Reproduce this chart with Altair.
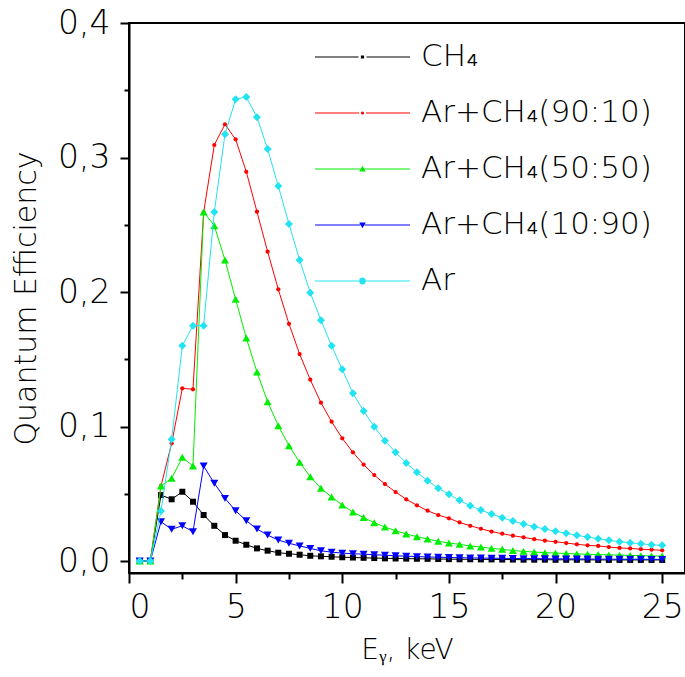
import altair as alt
import pandas as pd

energy = [0.5, 1.0, 1.5, 2.0, 2.5, 3.0, 3.5, 4.0, 4.5, 5.0,
          5.5, 6.0, 6.5, 7.0, 7.5, 8.0, 8.5, 9.0, 9.5, 10.0,
          10.5, 11.0, 11.5, 12.0, 12.5, 13.0, 13.5, 14.0, 14.5, 15.0,
          15.5, 16.0, 16.5, 17.0, 17.5, 18.0, 18.5, 19.0, 19.5, 20.0,
          20.5, 21.0, 21.5, 22.0, 22.5, 23.0, 23.5, 24.0, 24.5, 25.0]

ch4 = [0.0, 0.0, 0.049, 0.0459, 0.0515, 0.0441, 0.0342, 0.0262, 0.0193, 0.0151,
       0.0121, 0.0094, 0.0077, 0.0062, 0.0054, 0.0047, 0.0039, 0.0035, 0.0032, 0.0028,
       0.0026, 0.0024, 0.0022, 0.0020, 0.0019, 0.0018, 0.0017, 0.0016, 0.0015, 0.0014,
       0.0013, 0.0013, 0.0012, 0.0012, 0.0011, 0.0011, 0.0010, 0.0010, 0.0010, 0.0009,
       0.0009, 0.0009, 0.0009, 0.0008, 0.0008, 0.0008, 0.0008, 0.0008, 0.0008, 0.0008]

ar_90_10 = [0.0, 0.0, 0.0558, 0.0875, 0.1284, 0.1277, 0.2593, 0.3093, 0.3247, 0.3135,
            0.2894, 0.2597, 0.2300, 0.2020, 0.1764, 0.1539, 0.1348, 0.1177, 0.1036, 0.0912,
            0.0808, 0.0717, 0.0639, 0.0572, 0.0513, 0.0459, 0.0414, 0.0374, 0.0342, 0.0318,
            0.0287, 0.0262, 0.0240, 0.0219, 0.0203, 0.0188, 0.0176, 0.0162, 0.0151, 0.0143,
            0.0134, 0.0124, 0.0117, 0.0112, 0.0104, 0.0097, 0.0094, 0.0088, 0.0084, 0.0080]

ar_50_50 = [0.0, 0.0, 0.0558, 0.0615, 0.0771, 0.0706, 0.2595, 0.2493, 0.2238, 0.1946,
            0.1658, 0.1405, 0.1184, 0.1006, 0.0857, 0.0734, 0.0627, 0.0541, 0.0476, 0.0416,
            0.0364, 0.0323, 0.0285, 0.0253, 0.0225, 0.0201, 0.0181, 0.0164, 0.0147, 0.0134,
            0.0124, 0.0112, 0.0104, 0.0094, 0.0087, 0.0078, 0.0072, 0.0067, 0.0062, 0.0059,
            0.0056, 0.0053, 0.0050, 0.0048, 0.0046, 0.0044, 0.0042, 0.0040, 0.0038, 0.0037]

ar_10_90 = [0.0, 0.0, 0.0292, 0.0236, 0.0262, 0.0218, 0.0706, 0.0578, 0.0466, 0.0374,
            0.0300, 0.0238, 0.0193, 0.0156, 0.0132, 0.0112, 0.0094, 0.0076, 0.0066, 0.0059,
            0.0054, 0.0051, 0.0047, 0.0043, 0.0039, 0.0036, 0.0033, 0.0030, 0.0028, 0.0026,
            0.0025, 0.0023, 0.0022, 0.0021, 0.0020, 0.0019, 0.0018, 0.0018, 0.0017, 0.0016,
            0.0016, 0.0015, 0.0015, 0.0014, 0.0014, 0.0013, 0.0013, 0.0013, 0.0012, 0.0012]

ar = [0.0, 0.0, 0.0372, 0.0905, 0.1600, 0.1750, 0.1750, 0.2595, 0.3172, 0.3433,
      0.3450, 0.3300, 0.3063, 0.2788, 0.2506, 0.2238, 0.1995, 0.1790, 0.1600, 0.1425,
      0.1247, 0.1115, 0.0999, 0.0894, 0.0808, 0.0729, 0.0660, 0.0597, 0.0541, 0.0496,
      0.0451, 0.0411, 0.0379, 0.0349, 0.0322, 0.0297, 0.0275, 0.0255, 0.0238, 0.0221,
      0.0206, 0.0191, 0.0178, 0.0166, 0.0154, 0.0143, 0.0136, 0.0128, 0.0121, 0.0117]

series_names = ["CH₄", "Ar+CH₄(90:10)", "Ar+CH₄(50:50)", "Ar+CH₄(10:90)", "Ar"]
series_values = [ch4, ar_90_10, ar_50_50, ar_10_90, ar]
colors = ["#000000", "#ff0000", "#00ee00", "#0000ff", "#22e3f0"]
shapes = ["square", "circle", "triangle-up", "triangle-down", "diamond"]
sizes = [36, 18, 64, 64, 64]

x_ticks = [0, 2.5, 5, 7.5, 10, 12.5, 15, 17.5, 20, 22.5, 25]
y_ticks = [0.0, 0.05, 0.1, 0.15, 0.2, 0.25, 0.3, 0.35, 0.4]

rows = []
for name, vals in zip(series_names, series_values):
    for e, q in zip(energy, vals):
        rows.append({"E": e, "Q": q, "series": name})
df = pd.DataFrame(rows)

FONT = "DejaVu Sans"
WEIGHT = 200

x_enc = alt.X(
    "E:Q",
    scale=alt.Scale(domain=[0, 26.07], nice=False, zero=False),
    axis=alt.Axis(
        values=x_ticks,
        title="Eᵧ, keV",
        grid=False,
        labelExpr="datum.value % 5 === 0 ? datum.label : ''",
        tickSize={"condition": {"test": "datum.value % 5 === 0", "value": 10}, "value": 6},
        tickWidth=2,
        tickColor="black",
        domainColor="black",
        domainWidth=2,
        labelFont=FONT,
        labelFontWeight=WEIGHT,
        labelFontSize=33,
        labelColor="black",
        labelPadding=8,
        titleFont=FONT,
        titleFontWeight=WEIGHT,
        titleFontSize=28,
        titleColor="black",
        titlePadding=12,
    ),
)

y_major_test = "abs(datum.value * 10 - round(datum.value * 10)) < 0.000001"
y_enc = alt.Y(
    "Q:Q",
    scale=alt.Scale(domain=[-0.0089, 0.4], nice=False, zero=False),
    axis=alt.Axis(
        values=y_ticks,
        title="Quantum Efficiency",
        grid=False,
        labelExpr=f"{y_major_test} ? replace(format(datum.value, '.1f'), '.', ',') : ''",
        tickSize={"condition": {"test": y_major_test, "value": 9}, "value": 5},
        tickWidth=2,
        tickColor="black",
        domainColor="black",
        domainWidth=2,
        labelFont=FONT,
        labelFontWeight=WEIGHT,
        labelFontSize=33,
        labelColor="black",
        labelPadding=10,
        titleFont=FONT,
        titleFontWeight=WEIGHT,
        titleFontSize=30,
        titleColor="black",
        titlePadding=16,
    ),
)

layers = []
for name, col, shp, sz in zip(series_names, colors, shapes, sizes):
    base = alt.Chart(df).transform_filter(alt.datum.series == name)
    layers.append(base.mark_line(color=col, strokeWidth=1).encode(x=x_enc, y=y_enc))
    layers.append(
        base.mark_point(filled=True, color=col, shape=shp, size=sz, opacity=1).encode(x=x_enc, y=y_enc)
    )

# legend: line with a marker in its middle, as custom symbol paths
W = 95.0
u = 2.0 / W


def seg(x0, x1, h):
    return f"M{x0:.4f},{-h:.4f}L{x1:.4f},{-h:.4f}L{x1:.4f},{h:.4f}L{x0:.4f},{h:.4f}Z"


def line_with_gap(g):
    h = 0.6 * u
    return seg(-1, -g, h) + seg(g, 1, h)


def circle(r):
    return f"M{r:.4f},0A{r:.4f},{r:.4f} 0 1,1 {-r:.4f},0A{r:.4f},{r:.4f} 0 1,1 {r:.4f},0Z"


sq = 1.6 * u
legend_paths = [
    line_with_gap(4 * u) + f"M{-sq:.4f},{-sq:.4f}L{sq:.4f},{-sq:.4f}L{sq:.4f},{sq:.4f}L{-sq:.4f},{sq:.4f}Z",
    line_with_gap(3.5 * u) + circle(1.6 * u),
    line_with_gap(2.2 * u) + f"M{-3.3*u:.4f},{2.4*u:.4f}L{3.3*u:.4f},{2.4*u:.4f}L0,{-3.3*u:.4f}Z",
    line_with_gap(2.2 * u) + f"M{-3.3*u:.4f},{-2.4*u:.4f}L{3.3*u:.4f},{-2.4*u:.4f}L0,{3.3*u:.4f}Z",
    line_with_gap(3.6 * u) + circle(3.4 * u),
]

legend_layer = (
    alt.Chart(df)
    .transform_filter("false")
    .mark_point(filled=True, opacity=1)
    .encode(
        x=x_enc,
        y=y_enc,
        color=alt.Color(
            "series:N",
            scale=alt.Scale(domain=series_names, range=colors),
            legend=alt.Legend(
                title=None,
                orient="none",
                legendX=186,
                legendY=6,
                symbolSize=W * W,
                symbolStrokeWidth=0,
                symbolOpacity=1,
                clipHeight=56,
                rowPadding=0,
                labelOffset=11,
                labelFont=FONT,
                labelFontWeight=WEIGHT,
                labelFontSize=31,
                labelColor="black",
                labelLimit=0,
                padding=0,
            ),
        ),
        shape=alt.Shape(
            "series:N",
            scale=alt.Scale(domain=series_names, range=legend_paths),
        ),
    )
)
layers.append(legend_layer)

chart = (
    alt.layer(*layers)
    .properties(
        width=556,
        height=550,
        autosize=alt.AutoSizeParams(type="none"),
        padding={"left": 129, "top": 23, "right": 0, "bottom": 104},
        background="white",
    )
    .configure_view(stroke="black", strokeWidth=2)
)

chart.save("out.html", embed_options={"renderer": "svg", "actions": False})
